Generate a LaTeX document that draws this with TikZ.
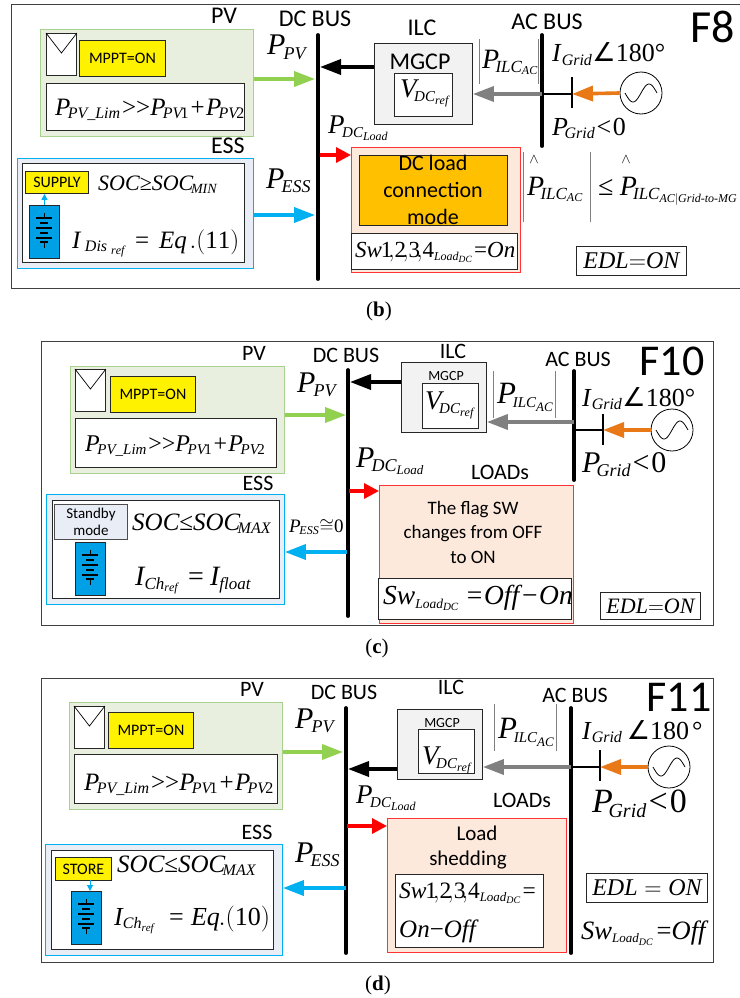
\documentclass[tikz,border=0pt]{standalone}
\usepackage{fix-cm}
\usepackage{amsmath}
\usepackage{fontspec}
\setmainfont{Liberation Serif}
\setsansfont{Carlito}
\newfontfamily\symfont{DejaVu Sans}
\usepackage{tikz}
\usetikzlibrary{arrows.meta, positioning, calc}

\DeclareMathSizes{19}{19}{12}{9}
\DeclareMathSizes{22}{22}{14}{10}
\DeclareMathSizes{23}{23}{12}{9.5}
\DeclareMathSizes{23.5}{23.5}{13}{10}
\DeclareMathSizes{24}{24}{15}{11}
\DeclareMathSizes{25}{25}{16}{12}
\DeclareMathSizes{26}{26}{16}{11}
\DeclareMathSizes{26.5}{26.5}{13}{10}
\DeclareMathSizes{27}{27}{15}{12}
\DeclareMathSizes{27.5}{27.5}{13.5}{11}
\DeclareMathSizes{28}{28}{17}{12}
\DeclareMathSizes{30}{30}{18}{13}
\DeclareMathSizes{31}{31}{15}{13}
\DeclareMathSizes{34}{34}{20}{14}

\thinmuskip=0mu
\medmuskip=0mu
\thickmuskip=0mu

\definecolor{pvgreen}{HTML}{92D050}
\definecolor{pvedge}{HTML}{A9D18E}
\definecolor{pvfill}{HTML}{E9EFDE}
\definecolor{essblue}{HTML}{00B0F0}
\definecolor{essfill}{HTML}{E9EEF6}
\definecolor{batblue}{HTML}{00A0E6}
\definecolor{loadfill}{HTML}{FCE9DC}
\definecolor{gridorange}{HTML}{E97817}
\definecolor{modeorange}{HTML}{FFC000}

\newcommand{\mi}[1]{\mathit{#1}}
\newcommand{\gap}[1]{\mkern#1mu}
\newcommand{\tx}[1]{\text{\normalfont #1}}
\newcommand{\angsym}{\text{\symfont ∠}}
\newcommand{\PPVsum}{$\mi{P}_{\gap{-3}\mi{PV\_Lim}}\gap{1}\tx{>}\tx{>}\mi{P}_{\gap{-3}\mi{PV}\gap{-2}\mathrm{1}}\gap{1}\tx{+}\gap{1}\mi{P}_{\gap{-3}\mi{PV}\gap{-2}\mathrm{2}}$}
\newcommand{\IGridang}{$\mi{I}_{\gap{1}\mi{Grid}}\angsym\mathrm{180}\tx{°}$}
\newcommand{\PGridlt}{$\mi{P}_{\gap{-4}\mi{Grid}}\gap{1}\tx{<}\gap{1}\mathrm{0}$}
\newcommand{\PILC}{$\mi{P}_{\gap{-4}\mi{ILC}_{\mi{AC}}}$}
\newcommand{\PDCload}{$\mi{P}_{\gap{-3}\mi{DC}_{\mi{Load}}}$}
\newcommand{\VDCref}{$\mi{V}_{\gap{-3}\mi{DC}_{\mi{ref}}}$}
\newcommand{\PPVlbl}{$\mi{P}_{\gap{-2}\mi{PV}}$}
\newcommand{\PESSlbl}{$\mi{P}_{\gap{-3}\mi{ESS}}$}
\newcommand{\swnums}{\gap{-1}\mathrm{1}\gap{-3}{,}\mathrm{2}\gap{-3}{,}\mathrm{3}\gap{-3}{,}\mathrm{4}}
\newcommand{\SOCmax}{$\mi{SOC}\tx{≤}\mi{SOC}_{\gap{-3}\mi{MAX}}$}

% solar panel with its V mark
\newcommand{\pvpanel}[3]{%
    \node[whitebox, sized={30}{42}] (#1) at (#2,#3) {};
    \draw[line width=0.7pt] (#1.north west) -- ($(#1.north)+(0,20)$) -- (#1.north east);
}
% battery stack
\newcommand{\batstack}[3]{%
    \node[batbox] (#1) at (#2,#3) {};
    \draw[line width=1.2pt] ($(#1.north)+(0,8)$) -- ($(#1.north)+(0,13)$);
    \foreach \yy/\ww in {13/8, 18/4, 23/8, 28/4, 33/8, 37/4}
        \draw[line width=1.2pt] ($(#1.north)+(-\ww,\yy)$) -- ($(#1.north)+(\ww,\yy)$);
    \draw[line width=1.2pt] ($(#1.north)+(0,37)$) -- ($(#1.north)+(0,43)$);
}
% AC source
\newcommand{\acsource}[3]{%
    \node[draw, circle, fill=white, minimum size=42, inner sep=0pt, line width=0.8pt] (#1) at (#2,#3) {};
    \draw[line width=0.8pt, shift={(#1.center)}] plot[smooth, domain=-16:16, samples=33] (\x,{-9*sin(\x/16*180)});
}

\tikzset{
    sized/.style 2 args={minimum width=#1, minimum height=#2},
    plainbox/.style={anchor=north west, inner sep=0pt, line width=0.9pt},
    pvbox/.style={plainbox, draw=pvedge, fill=pvfill},
    essbox/.style={plainbox, draw=essblue, fill=essfill},
    whitebox/.style={plainbox, draw=black!85, fill=white},
    yellowbox/.style={plainbox, draw=black!85, fill=yellow, font=\sffamily\fontsize{16}{16}\selectfont},
    batbox/.style={plainbox, draw=black!85, fill=batblue, sized={30}{53}},
    loadbox/.style={plainbox, draw=red!80, fill=loadfill},
    ilcbox/.style={plainbox, draw=black!85, fill=black!5},
    panelframe/.style={draw=black!75, line width=1pt},
    mathlbl/.style={anchor=base west, inner sep=0pt, font=\fontsize{#1}{#1}\selectfont},
    sanslbl/.style={inner sep=0pt, font=\sffamily\fontsize{#1}{#1}\selectfont},
    caption/.style={inner sep=0pt, font=\fontsize{21}{21}\selectfont},
    flow/.style={line width=3.6pt, -{Triangle[length=21pt, width=15pt]}},
    redflow/.style={line width=3.2pt, red, -{Triangle[length=15pt, width=15pt]}},
    tinyflow/.style={line width=1pt, essblue, -{Triangle[length=6pt, width=6pt]}},
    bus/.style={line width=3.8pt, line cap=round},
    tick/.style={line width=2.4pt},
    absbar/.style={line width=0.8pt, black!50},
}

\begin{document}
\begin{tikzpicture}[x=1pt, y=-1pt]
    \useasboundingbox (0,0) rectangle (739,998);

    %%%%% Panel b
    \draw[panelframe] (11,5) rectangle (760,288);

    % PV side
    \node[sanslbl=24] (pvLblB) at (224,16) {PV};
    \node[pvbox, sized={213}{107}] (pvB) at (40,29) {};
    \pvpanel{panelB}{46}{33}
    \node[yellowbox, sized={86}{36}] (mpptB) at (79,40) {MPPT=ON};
    \node[whitebox, sized={198}{47}] (pvEqB) at (46,83) {};
    \node[mathlbl=25] (pvSumB) at (55,115) {\PPVsum};

    % ESS side
    \node[sanslbl=24] (essLblB) at (228,146) {ESS};
    \node[essbox, sized={236}{110}] (essB) at (17,158) {};
    \node[whitebox, sized={222}{99}] (essInB) at (22,163) {};
    \node[yellowbox, sized={63}{22}] (supplyB) at (25,171) {SUPPLY};
    \batstack{batB}{29}{205}
    \draw[tinyflow] (batB.north) -- (batB.north |- supplyB.south);
    \node[mathlbl=22] (socB) at (98,190) {$\mi{SOC}\tx{≥}\mi{SOC}_{\gap{-3}\mi{MIN}}$};
    \node[mathlbl=25] (iDisB) at (72,248) {$\mi{I}_{\gap{5}\mi{Dis}_{\gap{6}\mi{ref}}}\gap{7}\tx{=}\gap{7}\mi{Eq}\gap{2}.\mathrm{(11)}$};

    % DC bus and its powers
    \node[sanslbl=24] (dcLblB) at (315,19) {DC BUS};
    \draw[bus] (318,35) -- (318,279);
    \coordinate (dcPvB) at (315,79);
    \coordinate (dcIlcB) at (320,67);
    \coordinate (dcLoadB) at (320,155);
    \coordinate (dcEssB) at (315,215);
    \node[mathlbl=30] (pPvB) at (267,55) {\PPVlbl};
    \node[mathlbl=30] (pEssB) at (266,188) {\PESSlbl};
    \node[mathlbl=27] (pLoadB) at (328,133) {\PDCload};
    \draw[flow, pvgreen] (pvB.east |- dcPvB) -- (dcPvB);
    \draw[flow, essblue] (essB.east |- dcEssB) -- (dcEssB);

    % ILC
    \node[sanslbl=24] (ilcLblB) at (422,28) {ILC};
    \node[ilcbox, sized={98}{81}] (ilcB) at (374,43) {};
    \node[sanslbl=24] (mgcpB) at (420,62) {MGCP};
    \node[whitebox, sized={58}{43}] (vrefBoxB) at (394,73) {};
    \node[mathlbl=27] (vrefB) at (400,97) {\VDCref};
    \draw[flow, black] (ilcB.west |- dcIlcB) -- (dcIlcB);

    % Loads
    \node[loadbox, sized={169}{125}] (loadB) at (351,147) {};
    \node[plainbox, draw=black!85, fill=modeorange, sized={148}{70}] (modeB) at (359,155) {};
    \node[inner sep=0pt, align=center, font=\sffamily\fontsize{22}{27}\selectfont] (modeTxtB) at (433,190) {DC load\\connection\\mode};
    \node[whitebox, sized={166}{36}] (swBoxB) at (351,233) {};
    \node[mathlbl=23] (swB) at (355,257) {$\mi{Sw}\swnums_{\mi{Load}_{\mi{DC}}}\gap{1}\tx{=}\mi{On}$};
    \draw[redflow] (dcLoadB) -- (loadB.west |- dcLoadB);

    % AC side
    \node[sanslbl=24] (acLblB) at (547,22) {AC BUS};
    \draw[bus] (542,35) -- (542,146);
    \coordinate (acIlcB) at (542,94);
    \coordinate (acTickB) at (572,94);
    \draw[absbar] (479,39) -- (479,84);
    \draw[absbar] (538,39) -- (538,84);
    \node[mathlbl=28] (pIlcB) at (482,68) {\PILC};
    \draw[flow, black!50] (acIlcB) -- (ilcB.east |- acIlcB);
    \draw[line width=1.8pt] (acIlcB) -- (acTickB);
    \draw[tick] (572,77) -- (572,108);
    \acsource{srcB}{641}{93}
    \draw[flow, gridorange] (srcB.west) -- (acTickB);
    \node[mathlbl=26] (iGridB) at (552,62) {\IGridang};
    \node[mathlbl=26] (pGridB) at (552,135) {\PGridlt};

    % Limit
    \draw[absbar] (523,152) -- (523,222);
    \draw[absbar] (590,152) -- (590,222);
    \node[inner sep=0pt, font=\fontsize{14}{14}\selectfont] (hatAB) at (534,160) {$\wedge$};
    \node[inner sep=0pt, font=\fontsize{14}{14}\selectfont] (hatBB) at (626,160) {$\wedge$};
    \node[mathlbl=28] (pHatB) at (527,195) {\PILC};
    \node[mathlbl=28] (pLimB) at (598,195) {$\tx{≤}\gap{4}\mi{P}_{\gap{-4}\mi{ILC}_{\mi{AC|Grid}\tx{-}\mi{to}\tx{-}\mi{MG}}}$};
    \node[plainbox, draw=black!85, fill=white, sized={110}{29}, font=\fontsize{24}{24}\selectfont] (edlB) at (576,246) {$\mi{EDL}{=}\mi{ON}$};

    \node[sanslbl=46] (tagB) at (713,27) {F8};
    \node[caption] (capB) at (379,311) {(\textbf{b})};

    %%%%% Panel c
    \draw[panelframe] (41,341) rectangle (713,625);

    % PV side
    \node[sanslbl=22] (pvLblC) at (254,353) {PV};
    \node[pvbox, sized={214}{107}] (pvC) at (70,366) {};
    \pvpanel{panelC}{75}{369}
    \node[yellowbox, sized={85}{36}] (mpptC) at (110,376) {MPPT=ON};
    \node[whitebox, sized={201}{49}] (pvEqC) at (75,418) {};
    \node[mathlbl=24] (pvSumC) at (85,451) {\PPVsum};

    % ESS side
    \node[sanslbl=22] (essLblC) at (258,483) {ESS};
    \node[essbox, sized={238}{110}] (essC) at (46,494) {};
    \node[whitebox, sized={227}{98}] (essInC) at (52,500) {};
    \node[plainbox, draw=black!70, fill=essfill, sized={73}{35}, align=center, font=\sffamily\fontsize{15}{17.5}\selectfont] (standbyC) at (54,504) {Standby\\mode};
    \batstack{batC}{75}{542}
    \node[mathlbl=25] (socC) at (132,530) {\SOCmax};
    \node[mathlbl=28] (iChC) at (135,585) {$\mi{I}_{\mi{Ch}_{\mi{ref}}}\gap{6}\tx{=}\gap{4}\mi{I}_{\mi{float}}$};

    % DC bus and its powers
    \node[sanslbl=22] (dcLblC) at (346,355) {DC BUS};
    \draw[bus] (348,370) -- (348,616);
    \coordinate (dcPvC) at (346,415);
    \coordinate (dcIlcC) at (350,382);
    \coordinate (dcLoadC) at (349,491);
    \coordinate (dcEssC) at (347,552);
    \node[mathlbl=30] (pPvC) at (297,392) {\PPVlbl};
    \node[mathlbl=19] (pEssC) at (289,532) {$\mi{P}_{\gap{-2}\mi{ESS}}{\cong}\mathrm{0}$};
    \node[mathlbl=30] (pLoadC) at (356,467) {\PDCload};
    \draw[flow, pvgreen] (pvC.east |- dcPvC) -- (dcPvC);
    \draw[flow, essblue] (dcEssC) -- (essC.east |- dcEssC);

    % ILC
    \node[sanslbl=22] (ilcLblC) at (453,351) {ILC};
    \node[ilcbox, sized={85}{70}] (ilcC) at (401,362) {};
    \node[sanslbl=14] (mgcpC) at (446,376) {MGCP};
    \node[whitebox, sized={56}{45}] (vrefBoxC) at (422,383) {};
    \node[mathlbl=27] (vrefC) at (425,409) {\VDCref};
    \draw[flow, black] (ilcC.west |- dcIlcC) -- (dcIlcC);

    % Loads
    \node[sanslbl=22] (loadLblC) at (500,472) {LOADs};
    \node[loadbox, sized={194}{138}] (loadC) at (379,485) {};
    \node[inner sep=0pt, align=center, font=\sffamily\fontsize{19}{24.5}\selectfont] (flagC) at (473,532) {The flag SW\\changes from OFF\\to ON};
    \node[whitebox, sized={193}{41}] (swBoxC) at (378,578) {};
    \node[mathlbl=27.5] (swC) at (383,604) {$\mi{Sw}_{\mi{Load}_{\mi{DC}}}\gap{5}\tx{=}\gap{1}\mi{Off}\gap{2}\tx{−}\gap{1}\mi{On}$};
    \draw[redflow] (dcLoadC) -- (loadC.west |- dcLoadC);

    % AC side
    \node[sanslbl=22] (acLblC) at (578,359) {AC BUS};
    \draw[bus] (574,371) -- (574,480);
    \coordinate (acIlcC) at (574,422);
    \coordinate (acLineC) at (574,430);
    \coordinate (acTickC) at (603,430);
    \draw[absbar] (493,371) -- (493,418);
    \draw[absbar] (555,371) -- (555,418);
    \node[mathlbl=31] (pIlcC) at (497,403) {\PILC};
    \draw[flow, black!50] (acIlcC) -- (ilcC.east |- acIlcC);
    \draw[line width=1.8pt] (acLineC) -- (acTickC);
    \draw[tick] (603,414) -- (603,445);
    \acsource{srcC}{672}{430}
    \draw[flow, gridorange] (srcC.west) -- (acTickC);
    \node[mathlbl=26] (iGridC) at (582,406) {\IGridang};
    \node[mathlbl=30] (pGridC) at (582,472) {\PGridlt};
    \node[plainbox, draw=black!85, fill=white, sized={100}{27}, font=\fontsize{22}{22}\selectfont] (edlC) at (600,592) {$\mi{EDL}{=}\mi{ON}$};

    \node[sanslbl=44] (tagC) at (672,361) {F10};
    \node[caption] (capC) at (377,648) {(\textbf{c})};

    %%%%% Panel d
    \draw[panelframe] (41,678) rectangle (713,962);

    % PV side
    \node[sanslbl=22] (pvLblD) at (252,689) {PV};
    \node[pvbox, sized={213}{107}] (pvD) at (69,702) {};
    \pvpanel{panelD}{74}{706}
    \node[yellowbox, sized={85}{36}] (mpptD) at (108,712) {MPPT=ON};
    \node[whitebox, sized={203}{49}] (pvEqD) at (74,754) {};
    \node[mathlbl=25] (pvSumD) at (84,790) {\PPVsum};

    % ESS side
    \node[sanslbl=22] (essLblD) at (257,832) {ESS};
    \node[essbox, sized={237}{111}] (essD) at (45,844) {};
    \node[whitebox, sized={222}{99}] (essInD) at (51,850) {};
    \node[yellowbox, sized={56}{23}] (storeD) at (55,857) {STORE};
    \batstack{batD}{71}{891}
    \coordinate (storeOutD) at (90,880);
    \draw[tinyflow] (storeOutD) -- (storeOutD |- batD.north);
    \node[mathlbl=25] (socD) at (117,872) {\SOCmax};
    \node[mathlbl=26] (iChD) at (114,925) {$\mi{I}_{\mi{Ch}_{\mi{ref}}}\gap{10}\tx{=}\gap{5}\mi{Eq}\gap{-1}.\mathrm{(10)}$};

    % DC bus and its powers
    \node[sanslbl=22] (dcLblD) at (344,692) {DC BUS};
    \draw[bus] (346,708) -- (346,953);
    \coordinate (dcPvD) at (343,752);
    \coordinate (dcIlcD) at (348,769);
    \coordinate (dcLoadD) at (347,826);
    \coordinate (dcEssD) at (346,888);
    \node[mathlbl=30] (pPvD) at (295,728) {\PPVlbl};
    \node[mathlbl=30] (pEssD) at (295,862) {\PESSlbl};
    \node[mathlbl=27] (pLoadD) at (356,803) {\PDCload};
    \draw[flow, pvgreen] (pvD.east |- dcPvD) -- (dcPvD);
    \draw[flow, essblue] (dcEssD) -- (essD.east |- dcEssD);

    % ILC
    \node[sanslbl=22] (ilcLblD) at (451,687) {ILC};
    \node[ilcbox, sized={85}{70}] (ilcD) at (397,709) {};
    \node[sanslbl=14] (mgcpD) at (442,723) {MGCP};
    \node[whitebox, sized={56}{44}] (vrefBoxD) at (418,729) {};
    \node[mathlbl=27] (vrefD) at (422,764) {\VDCref};
    \draw[flow, black] (ilcD.west |- dcIlcD) -- (dcIlcD);

    % Loads
    \node[sanslbl=22] (loadLblD) at (522,800) {LOADs};
    \node[loadbox, sized={179}{134}] (loadD) at (387,818) {};
    \node[sanslbl=21] (shedAD) at (477,833) {Load};
    \node[sanslbl=21] (shedBD) at (468,860) {shedding};
    \node[whitebox, sized={148}{73}] (swBoxD) at (395,874) {};
    \node[mathlbl=23.5] (swD) at (399,898) {$\mi{Sw}\swnums_{\mi{Load}_{\mi{DC}}}\gap{1}\tx{=}$};
    \node[mathlbl=25] (onOffD) at (399,937) {$\mi{On}\tx{−}\mi{Off}$};
    \draw[redflow] (dcLoadD) -- (loadD.west |- dcLoadD);

    % AC side
    \node[sanslbl=22] (acLblD) at (575,695) {AC BUS};
    \draw[bus] (571,708) -- (571,953);
    \coordinate (acIlcD) at (571,767);
    \coordinate (acTickD) at (600,767);
    \draw[absbar] (494,704) -- (494,751);
    \draw[absbar] (556,704) -- (556,751);
    \node[mathlbl=31] (pIlcD) at (498,738) {\PILC};
    \draw[flow, black!50] (acIlcD) -- (ilcD.east |- acIlcD);
    \draw[line width=1.8pt] (acIlcD) -- (acTickD);
    \draw[tick] (600,750) -- (600,781);
    \acsource{srcD}{669}{767}
    \draw[flow, gridorange] (srcD.west) -- (acTickD);
    \node[mathlbl=26] (iGridD) at (582,739) {$\mi{I}_{\gap{1}\mi{Grid}}\gap{3}\angsym\mathrm{180}\gap{2}\tx{°}$};
    \node[mathlbl=34] (pGridD) at (592,812) {\PGridlt};
    \node[plainbox, draw=black!85, fill=white, sized={121}{29}, font=\fontsize{24}{24}\selectfont] (edlD) at (586,873) {$\mi{EDL}\gap{5}{=}\gap{5}\mi{ON}$};
    \node[mathlbl=26.5] (swOffD) at (581,939) {$\mi{Sw}_{\mi{Load}_{\mi{DC}}}\gap{2}\tx{=}\mi{Off}$};

    \node[sanslbl=44] (tagD) at (679,697) {F11};
    \node[caption] (capD) at (378,985) {(\textbf{d})};
\end{tikzpicture}
\end{document}
